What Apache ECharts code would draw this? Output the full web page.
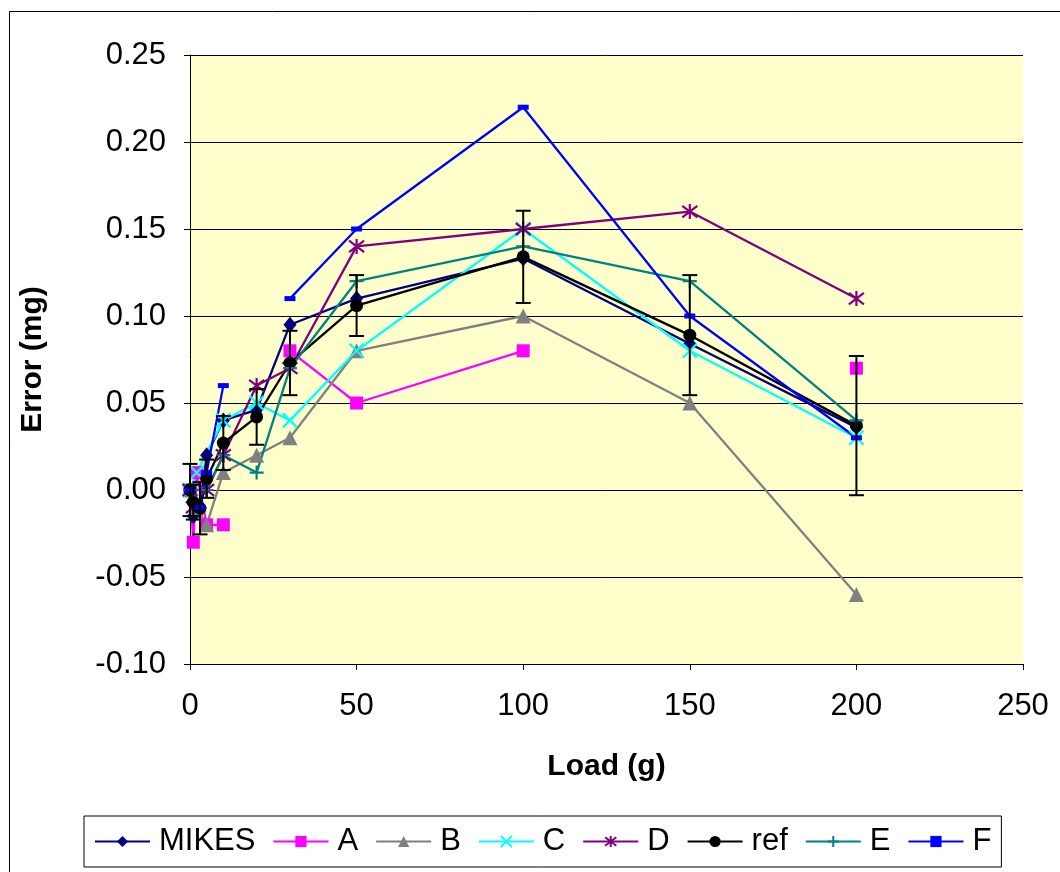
<!DOCTYPE html>
<html>
<head>
<meta charset="utf-8">
<script src="https://cdn.jsdelivr.net/npm/echarts@6/dist/echarts.min.js"></script>
<style>
html,body{margin:0;padding:0;background:#fff;}
#chart{width:1060px;height:872px;}
</style>
</head>
<body>
<div id="chart"></div>
<script>
// Loads (g) shared by all series; null = not measured, 'gap' = line break
const loads = [0, 1, 2, 3, 5, 10, 20, 30, 50, 100, 150, 200];
const mikes = [0, -0.015, null, -0.01, 0.02, 0.04, 0.046, 0.095, 0.11, 0.133, 0.084, 0.036];
const seriesA = [0, -0.03, 0.01, null, -0.02, -0.02, 'gap', 0.08, 0.05, 0.08, 'gap', 0.07];
const seriesB = [0, null, -0.01, null, -0.02, 0.01, 0.02, 0.03, 0.08, 0.10, 0.05, -0.06];
const seriesC = [0, null, 0.01, null, null, 0.04, 0.05, 0.04, 0.08, 0.15, 0.08, 0.03];
const seriesD = [0, -0.01, null, null, 0.0, 0.02, 0.06, 0.07, 0.14, 0.15, 0.16, 0.11];
const refVals = [0, -0.007, null, -0.0105, 0.0065, 0.027, 0.042, 0.073, 0.106, 0.134, 0.089, 0.037];
const refErr  = [0.015, 0.01, null, 0.015, 0.011, 0.0155, 0.016, 0.0185, 0.0175, 0.0265, 0.0345, 0.04];
const seriesE = [0, 0, null, 0, 0, 0.02, 0.01, 0.07, 0.12, 0.14, 0.12, 0.04];
const seriesF = [0, null, null, -0.01, 0.01, 0.06, 'gap', 0.11, 0.15, 0.22, 0.10, 0.03];

const seriesNames = ['MIKES', 'A', 'B', 'C', 'D', 'ref', 'E', 'F'];
const xTicks = [0, 50, 100, 150, 200, 250];
const yTicks = [-0.10, -0.05, 0, 0.05, 0.10, 0.15, 0.20, 0.25];

function toPairs(vals) {
  const out = [];
  vals.forEach((v, i) => {
    if (v === null) return;
    if (v === 'gap') { out.push([loads[i], null]); return; }
    out.push([loads[i], v]);
  });
  return out;
}

const FONT = 'Liberation Sans, Arial, sans-serif';

const styles = {
  'MIKES': {color: '#000080', symbol: 'diamond', size: [13, 16]},
  'A': {color: '#FF00FF', symbol: 'rect', size: 13},
  'B': {color: '#808080', symbol: 'triangle', size: 15},
  'C': {color: '#00FFFF', symbol: 'path://M0,0L10,10M10,0L0,10', size: 14, stroke: true},
  'D': {color: '#800080', symbol: 'path://M0,0L10,10M10,0L0,10M5,-1.5L5,11.5', size: 15, stroke: true},
  'ref': {color: '#000000', symbol: 'circle', size: 13},
  'E': {color: '#008080', symbol: 'path://M5,0L5,10M0,5L10,5', size: 14, stroke: true},
  'F': {color: '#0000FF', symbol: 'rect', size: [11, 5]}
};
const dataMap = {
  'MIKES': mikes, 'A': seriesA, 'B': seriesB, 'C': seriesC, 'D': seriesD,
  'ref': refVals, 'E': seriesE, 'F': seriesF
};

const lineSeries = seriesNames.map(name => {
  const s = styles[name];
  return {
    name: name,
    type: 'line',
    data: toPairs(dataMap[name]),
    connectNulls: false,
    symbol: s.symbol,
    symbolSize: s.size,
    showAllSymbol: true,
    lineStyle: {color: s.color, width: 2.3},
    itemStyle: s.stroke
      ? {color: 'rgba(0,0,0,0)', borderColor: s.color, borderWidth: 2.2}
      : {color: s.color, borderWidth: 0},
    emphasis: {disabled: true},
    animation: false,
    z: 3
  };
});

const errData = [];
refVals.forEach((v, i) => {
  if (v === null || refErr[i] === null) return;
  errData.push([loads[i], v, refErr[i]]);
});

const errSeries = {
  name: 'refErr',
  type: 'custom',
  data: errData,
  encode: {x: 0, y: 1},
  z: 4,
  animation: false,
  renderItem: function (params, api) {
    const x = api.value(0), y = api.value(1), e = api.value(2);
    const top = api.coord([x, y + e]);
    const bot = api.coord([x, y - e]);
    const hw = 7.5;
    const st = {stroke: '#000', lineWidth: 2};
    return {
      type: 'group',
      children: [
        {type: 'line', shape: {x1: top[0], y1: top[1], x2: bot[0], y2: bot[1]}, style: st},
        {type: 'line', shape: {x1: top[0] - hw, y1: top[1], x2: top[0] + hw, y2: top[1]}, style: st},
        {type: 'line', shape: {x1: bot[0] - hw, y1: bot[1], x2: bot[0] + hw, y2: bot[1]}, style: st}
      ]
    };
  }
};

const chart = echarts.init(document.getElementById('chart'), null, {renderer: 'canvas'});
chart.setOption({
  backgroundColor: '#ffffff',
  animation: false,
  textStyle: {fontFamily: FONT},
  graphic: [{
    type: 'rect', left: 7, top: 9,
    shape: {width: 1100, height: 900},
    style: {fill: 'none', stroke: '#000', lineWidth: 1},
    z: -10, silent: true
  }],
  grid: {
    left: 190, top: 55, right: 37, bottom: 208,
    show: true, backgroundColor: '#FFFFCC', borderWidth: 0
  },
  xAxis: {
    type: 'value',
    min: xTicks[0], max: xTicks[xTicks.length - 1], interval: 50,
    name: 'Load (g)', nameLocation: 'middle', nameGap: 88,
    nameTextStyle: {fontFamily: FONT, fontSize: 30, fontWeight: 'bold', color: '#000'},
    axisLine: {onZero: false, lineStyle: {color: '#000', width: 1}},
    axisTick: {show: true, inside: false, length: 6, lineStyle: {color: '#000'}},
    axisLabel: {fontFamily: FONT, fontSize: 31, color: '#000', margin: 27},
    splitLine: {show: false}
  },
  yAxis: {
    type: 'value',
    min: yTicks[0], max: yTicks[yTicks.length - 1], interval: 0.05,
    name: 'Error (mg)', nameLocation: 'middle', nameGap: 142, nameRotate: 90,
    nameTextStyle: {fontFamily: FONT, fontSize: 30, fontWeight: 'bold', color: '#000'},
    axisLine: {show: true, lineStyle: {color: '#000', width: 1}},
    axisTick: {show: true, inside: false, length: 6, lineStyle: {color: '#000'}},
    axisLabel: {
      fontFamily: FONT, fontSize: 31, color: '#000', margin: 24,
      formatter: v => v.toFixed(2)
    },
    splitLine: {show: true, lineStyle: {color: '#000', width: 1}}
  },
  legend: {
    data: seriesNames,
    left: 84, top: 816,
    orient: 'horizontal',
    padding: [10, 10],
    itemGap: 17,
    itemWidth: 55,
    itemHeight: 14,
    borderColor: '#000', borderWidth: 1,
    backgroundColor: '#fff',
    textStyle: {fontFamily: FONT, fontSize: 31, color: '#000', padding: [0, 0, 0, 4]},
    selectedMode: false
  },
  series: lineSeries.concat([errSeries])
});
</script>
</body>
</html>
